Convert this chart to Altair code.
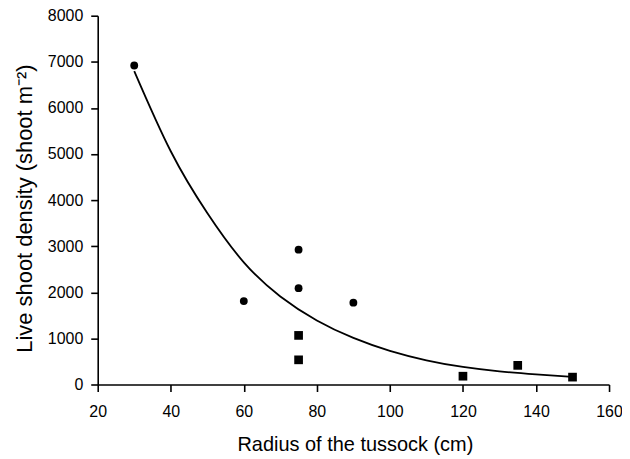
import altair as alt
import pandas as pd

# Data
circle_radius = [30, 60, 75, 75, 90]
circle_density = [6920, 1810, 2925, 2090, 1775]
square_radius = [75, 75, 120, 135, 150]
square_density = [1065, 535, 180, 415, 160]

# Fitted curve, values
curve_radius = [30, 40, 50, 60, 70, 80, 90, 100, 110, 120, 130, 140, 150]
curve_density = [6800, 5060, 3720, 2650, 1910, 1390, 1010, 730, 525, 380, 285, 220, 165]

x_ticks = [20, 40, 60, 80, 100, 120, 140, 160]
y_ticks = [0, 1000, 2000, 3000, 4000, 5000, 6000, 7000, 8000]

circles = pd.DataFrame({"radius": circle_radius, "density": circle_density})
squares = pd.DataFrame({"radius": square_radius, "density": square_density})
curve = pd.DataFrame({"radius": curve_radius, "density": curve_density})

FONT = "Liberation Sans, Arial, Helvetica, sans-serif"

x_enc = alt.X(
    "radius:Q",
    scale=alt.Scale(domain=[20, 160], nice=False, zero=False),
    axis=alt.Axis(
        title="Radius of the tussock (cm)",
        values=x_ticks,
        format="d",
        labelFlush=False,
        labelPadding=12,
        titleX=258,
        titleY=66,
        titleAlign="center",
        titleBaseline="alphabetic",
        titleFontSize=20,
    ),
)
y_enc = alt.Y(
    "density:Q",
    scale=alt.Scale(domain=[0, 8000], nice=False),
    axis=alt.Axis(
        title="Live shoot density (shoot m\u207b\u00b2)",
        values=y_ticks,
        format="d",
        labelFlush=False,
        labelPadding=8,
        titleAngle=270,
        titleX=-66,
        titleY=193,
        titleAlign="center",
        titleBaseline="alphabetic",
        titleFontSize=22,
    ),
)

line = alt.Chart(curve).mark_line(
    color="black", strokeWidth=1.8, interpolate="natural"
).encode(x=x_enc, y=y_enc)

pts_c = alt.Chart(circles).mark_point(
    shape="circle", filled=True, color="black", opacity=1, size=62
).encode(x=x_enc, y=y_enc)

pts_s = alt.Chart(squares).mark_point(
    shape="square", filled=True, color="black", opacity=1, size=76
).encode(x=x_enc, y=y_enc)

chart = (
    alt.layer(line, pts_c, pts_s)
    .properties(
        width=513,
        height=370,
        autosize="none",
        padding={"left": 90, "top": 7, "right": 13, "bottom": 70},
    )
    .configure_view(stroke=None)
    .configure_axis(
        grid=False,
        domainColor="black",
        domainWidth=1.6,
        tickColor="black",
        tickWidth=1.6,
        tickSize=7,
        labelFont=FONT,
        labelFontSize=16,
        labelColor="black",
        titleFont=FONT,
        titleColor="black",
        titleFontWeight="normal",
    )
)

chart.save("out.html", embed_options={"renderer": "svg", "actions": False})
